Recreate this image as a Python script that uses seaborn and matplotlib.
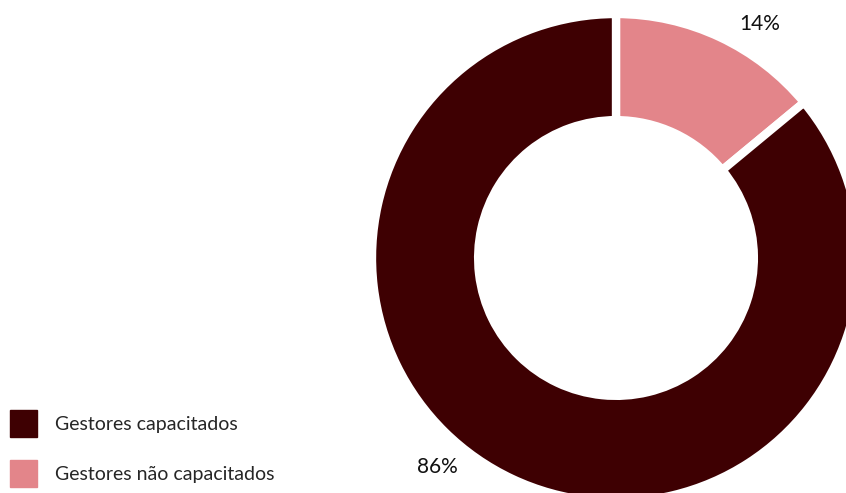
import matplotlib
matplotlib.use("Agg")
import matplotlib.pyplot as plt
import matplotlib.patches as mpatches
import seaborn as sns

sns.set_theme(style="white")
plt.rcParams['font.family'] = ['Lato', 'DejaVu Sans']

categories = ["Gestores capacitados", "Gestores não capacitados"]
values = [86, 14]
colors = sns.color_palette(["#3E0002", "#E3858A"])

W, H = 846, 493
fig = plt.figure(figsize=(W / 100, H / 100), dpi=100)

# donut centred at (616, 258) px with outer radius ~244 px
cx, cy, r = 616, 258, 244
ax = fig.add_axes([(cx - r) / W, (H - cy - r) / H, 2 * r / W, 2 * r / H])

# draw the small slice first so it starts at 12 o'clock going clockwise
order = [1, 0]
ax.pie([values[i] for i in order], colors=[colors[i] for i in order],
       startangle=90, counterclock=False, radius=1,
       wedgeprops=dict(width=0.435, edgecolor="white", linewidth=6))
ax.set_xlim(-1, 1)
ax.set_ylim(-1, 1)
ax.set_aspect("equal")
ax.axis("off")

fig.text(760 / W, 1 - 24 / H, f"{values[1]}%", ha="center", va="center",
         fontsize=15, color="#111111")
fig.text(437 / W, 1 - 467 / H, f"{values[0]}%", ha="center", va="center",
         fontsize=15, color="#111111")

handles = [mpatches.Patch(color=colors[i], label=categories[i]) for i in range(2)]
fig.legend(handles=handles, loc="lower left", bbox_to_anchor=(3 / W, -1 / H),
           frameon=False, fontsize=14, handlelength=1.4, handleheight=1.8,
           handletextpad=0.9, labelspacing=1.15, borderaxespad=0.0,
           borderpad=0.35)

fig.savefig("out.png", dpi=100)
